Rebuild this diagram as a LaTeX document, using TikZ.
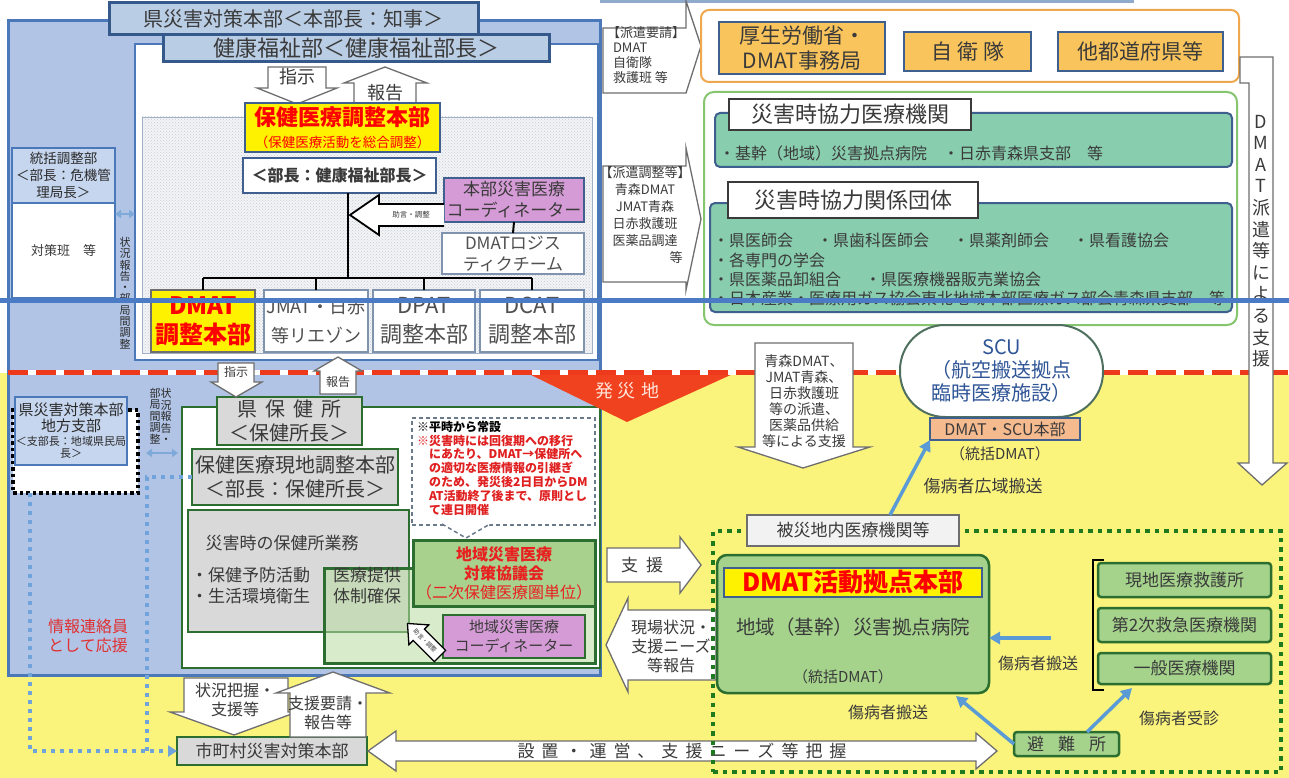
\documentclass[tikz,border=0pt]{standalone}
\usepackage{fontspec}
\setmainfont{Noto Sans CJK JP}
\usetikzlibrary{arrows.meta,patterns,calc}
\definecolor{outerfill}{HTML}{B1C4E6}
\definecolor{outerline}{HTML}{4A78B8}
\definecolor{titlefill}{HTML}{B9CDE5}
\definecolor{titleline}{HTML}{35598A}
\definecolor{yel}{HTML}{FBF47C}
\definecolor{txt}{HTML}{3A3A3A}
\definecolor{txtl}{HTML}{505050}
\definecolor{txtd}{HTML}{2A2A2A}
\definecolor{ybox}{HTML}{FFF200}
\definecolor{boxline}{HTML}{3F5F8F}
\definecolor{logiline}{HTML}{7F93AE}
\definecolor{pinkf}{HTML}{D59BD6}
\definecolor{lbf}{HTML}{C6D6EE}
\definecolor{orf}{HTML}{F9C45C}
\definecolor{orline}{HTML}{F0A84E}
\definecolor{grline}{HTML}{84C56E}
\definecolor{tealf}{HTML}{88CDAE}
\definecolor{gf}{HTML}{A5D38C}
\definecolor{kyf}{HTML}{A9D18E}
\definecolor{gdark}{HTML}{2B6E2F}
\definecolor{greyf}{HTML}{D9D9D9}
\definecolor{lgf}{HTML}{B9DCA0}
\definecolor{salm}{HTML}{F5BA8E}
\definecolor{bluearrc}{HTML}{5B9BD5}
\definecolor{dotblue}{HTML}{6FA3DA}
\definecolor{dblc}{HTML}{7FA9D8}
\definecolor{dotgreen}{HTML}{1F7A1F}
\definecolor{hred}{HTML}{F0421E}
\definecolor{dred}{HTML}{EE3A1C}
\definecolor{midline}{HTML}{4A7BC4}
\definecolor{scublue}{HTML}{2F5597}
\definecolor{sculine}{HTML}{4F6F5F}
\definecolor{notered}{HTML}{E02020}
\definecolor{kyred}{HTML}{E82020}
\definecolor{noteline}{HTML}{6A7A8A}
\definecolor{arrgrey}{HTML}{6E6E6E}
\definecolor{hatchbg}{HTML}{F3F4F6}
\definecolor{hatchdot}{HTML}{C5CAD3}
\definecolor{hatchline}{HTML}{9FB0C6}
\definecolor{hisaif}{HTML}{F2F2F2}
\definecolor{topstripc}{HTML}{8FAACB}
\definecolor{infored}{HTML}{E03030}
\definecolor{hassaitxt}{HTML}{FFE4DA}
\newcommand\fs[2]{\fontsize{#1}{#2}\selectfont}
\newcommand\kgap{\hspace{7pt}}
\newcommand\bx[7]{\node[#1, minimum width={(#5-#3)*1pt}, minimum height={(#6-#4)*1pt}] (#2) at ({(#3+#5)/2},{(#4+#6)/2}) {#7};}
\tikzset{
 nb/.style={inner sep=1pt, outer sep=0pt, align=center, text=txt},
 outerbox/.style={nb, fill=outerfill, draw=outerline, line width=3pt},
 titlebox/.style={nb, fill=titlefill, draw=titleline, line width=3pt},
 panelbox/.style={nb, fill=white, draw=outerline, line width=1.5pt},
 hatchbox/.style={nb, preaction={fill=hatchbg}, pattern=crosshatch dots, pattern color=hatchdot, draw=hatchline, line width=0.8pt},
 blockarrow/.style={fill=white, draw=arrgrey, line width=1.3pt, line join=miter},
 blockarrowk/.style={fill=white, draw=black, line width=1.8pt, line join=miter},
 yelbox/.style={nb, fill=ybox, draw=boxline, line width=2pt, text=red},
 whitebox/.style={nb, fill=white, draw=boxline, line width=2pt},
 pinkbox/.style={nb, fill=pinkf, draw=boxline, line width=2pt},
 logibox/.style={nb, fill=white, draw=logiline, line width=1.5pt, text=txtl},
 tree/.style={line width=2.5pt, black},
 dmatbox/.style={nb, fill=ybox, draw=arrgrey, line width=1.5pt, text=red},
 wbox/.style={nb, fill=white, draw=logiline, line width=1.5pt, text=txtl},
 lbbox/.style={nb, fill=lbf, draw=outerline, line width=2pt, text=txtd},
 dblarrow/.style={draw=dblc, line width=2.5pt, {Triangle[length=6pt,width=8pt]}-{Triangle[length=6pt,width=8pt]}},
 frameor/.style={nb, fill=white, draw=orline, line width=2pt, rounded corners=8pt},
 orbox/.style={nb, fill=orf, draw=boxline, line width=2pt},
 framegr/.style={nb, fill=white, draw=grline, line width=2pt, rounded corners=10pt},
 tealbox/.style={nb, fill=tealf, draw=boxline, line width=2pt, rounded corners=5pt},
 labelbox/.style={nb, fill=white, draw=txt, line width=1.5pt},
 gwbox/.style={nb, fill=white, draw=gdark, line width=2.5pt},
 greybox/.style={nb, fill=greyf, draw=gdark, line width=2.5pt},
 lgbox/.style={nb, fill=lgf, fill opacity=0.55, draw=gdark, draw opacity=1, line width=3pt},
 kyogibox/.style={nb, fill=kyf, draw=gdark, line width=3pt, text=kyred},
 pinkboxg/.style={nb, fill=pinkf, draw=gdark, line width=2.5pt},
 notebox/.style={nb, fill=white, draw=noteline, line width=1.5pt, dash pattern=on 4pt off 3pt},
 notedash/.style={draw=noteline, line width=1.5pt, dash pattern=on 4pt off 3pt},
 dottedbox/.style={nb, fill=white, draw=black, line width=3.5pt, dash pattern=on 3.5pt off 3pt},
 bluedots/.style={draw=dotblue, line width=4pt, dash pattern=on 4pt off 5pt},
 greendots/.style={nb, draw=dotgreen, line width=4.5pt, dash pattern=on 4.5pt off 5pt},
 hisaibox/.style={nb, fill=hisaif, draw=arrgrey, line width=1.5pt},
 gbox/.style={nb, fill=gf, draw=gdark, line width=2.5pt, rounded corners=3pt},
 banner/.style={nb, fill=ybox, draw=boxline, line width=1.5pt, text=red},
 bluearr/.style={draw=bluearrc, line width=3.5pt, -{Triangle[length=11pt,width=12pt]}},
 salmonbox/.style={nb, fill=salm, draw=boxline, line width=2pt},
 scubox/.style={nb, fill=white, draw=sculine, line width=2pt, rounded corners=45pt, text=scublue},
}
\begin{document}
\begin{tikzpicture}[x=1pt,y=-1pt]
\useasboundingbox (0,0) rectangle (1289,778);
\fill[white] (0,0) rectangle (1289,778);
\fill[yel] (0,373) rectangle (1289,778);
\draw[topstripc, line width=2.5pt] (600,1.5) -- (1134,1.5);

% ===== upper left: prefecture HQ =====
\bx{outerbox}{outer}{8}{21}{600}{675}{}
\bx{titlebox, font=\fs{20}{22}}{title}{109}{3}{478}{35}{県災害対策本部＜本部長：知事＞}
\bx{panelbox}{panel}{135}{44}{598}{360}{}
\bx{titlebox, font=\fs{22}{24}}{header}{163}{35}{549}{62}{健康福祉部＜健康福祉部長＞}
\bx{hatchbox}{hatch}{142}{117}{592}{353}{}

\draw[blockarrow] (268,67) -- (326,67) -- (326,88) -- (337,88) -- (297,104) -- (257,88) -- (268,88) -- cycle;
\node[nb, font=\fs{18}{20}] (shijiA) at (297,77) {指示};
\draw[blockarrow] (354,104) -- (354,83) -- (344,83) -- (385,67) -- (427,83) -- (416,83) -- (416,104) -- cycle;
\node[nb, font=\fs{18}{20}] (hokokuA) at (385,93) {報告};

\bx{yelbox, font=\fs{22}{22}\bfseries}{hq}{245}{103}{440}{152}{保健医療調整本部\\{\fs{13.5}{15}\mdseries （保健医療活動を総合調整）}}
\bx{whitebox, font=\fs{16}{18}\bfseries}{bucho}{243}{158}{436}{193}{＜部長：健康福祉部長＞}
\bx{pinkbox, font=\fs{17}{21}}{honbucoord}{444}{178}{584}{222}{本部災害医療\\コーディネーター}
\bx{logibox, font=\fs{17}{21}}{logi}{442}{233}{584}{274}{DMATロジス\\ティクチーム}
\draw[line width=2pt] (honbucoord.south) -- (logi.north);

\bx{dmatbox, font=\fs{24}{29}\bfseries}{dmatc}{151}{290}{255}{352}{DMAT\\調整本部}
\bx{wbox, font=\fs{18}{29}}{jmat}{264}{290}{368}{352}{JMAT・日赤\\等リエゾン}
\bx{wbox, font=\fs{22}{29}}{dpat}{373}{290}{475}{352}{DPAT\\調整本部}
\bx{wbox, font=\fs{22}{29}}{dcat}{480}{290}{584}{352}{DCAT\\調整本部}

\coordinate (trunk) at (348,278);
\draw[tree] (bucho.south -| trunk) -- (trunk);
\draw[tree] (dmatc.north |- trunk) -- (dcat.north |- trunk);
\foreach \n in {dmatc,jmat,dpat,dcat} \draw[tree] (\n.north |- trunk) -- (\n.north);

\draw[blockarrowk] (444,204) -- (379,204) -- (379,195) -- (350,215) -- (379,235) -- (379,226) -- (444,226);
\node[nb, font=\fs{7.5}{8}] (jogenA) at (411,215) {助言・調整};

\bx{lbbox, font=\fs{13.5}{17}}{tokatsu}{12}{148}{115}{203}{統括調整部\\＜部長：危機管\\理局長＞}
\bx{nb, fill=white, draw=outerline, line width=1.5pt, font=\fs{13}{15}}{taisaku}{12}{203}{115}{298}{対策班　等}
\draw[dblarrow] (taisaku.east |- 0,214) -- (panel.west |- 0,214);
\node[nb, font=\fs{11}{11.3}, text=txtd] (vtA) at (125,293) {状\\況\\報\\告\\・\\部\\局\\間\\調\\整};

% ===== upper right =====
\draw[blockarrow] (603,28) -- (686,28) -- (686,1) -- (701,46) -- (686,93) -- (603,93) -- cycle;
\node[nb, anchor=north west, align=left, font=\fs{13}{15}] (reqA) at (606,26) {【派遣要請】\\\hspace*{6pt}DMAT\\\hspace*{6pt}自衛隊\\\hspace*{6pt}救護班 等};
\draw[blockarrow] (603,166) -- (686,166) -- (686,148) -- (701,219) -- (686,290) -- (686,282) -- (603,282) -- cycle;
\node[nb, font=\fs{13}{17}] (reqB) at (645,207) {【派遣調整等】\\青森DMAT\\JMAT青森\\日赤救護班\\医薬品調達};
\node[nb, font=\fs{13}{15}] (reqBend) at (676,258) {等};

\bx{frameor}{orframe}{701}{10}{1239}{82}{}
\bx{orbox, font=\fs{21}{25}}{mhlw}{719}{22}{885}{74}{厚生労働省・\\DMAT事務局}
\bx{orbox, font=\fs{21}{24}}{sdf}{904}{32}{1031}{71}{自\hspace{5pt}衛\hspace{5pt}隊}
\bx{orbox, font=\fs{21}{24}}{otherpref}{1058}{32}{1223}{71}{他都道府県等}

\bx{framegr}{grframe}{704}{92}{1237}{325}{}
\bx{tealbox}{tealA}{715}{113}{1232}{167}{}
\bx{labelbox, font=\fs{22}{24}}{labA}{729}{99}{971}{130}{災害時協力医療機関}
\node[nb, anchor=west, font=\fs{16}{19}] (tA) at (718,153) {・基幹（地域）災害拠点病院　・日赤青森県支部　等};
\bx{tealbox}{tealB}{710}{203}{1232}{312}{}
\bx{labelbox, font=\fs{22}{24}}{labB}{728}{182}{978}{218}{災害時協力関係団体}
\node[nb, anchor=west, font=\fs{16}{19}] (tBa) at (712,240) {・県医師会\hspace{1.5em}・県歯科医師会\hspace{1.5em}・県薬剤師会\hspace{1.5em}・県看護協会};
\node[nb, anchor=west, font=\fs{16}{19}] (tBb) at (712,260) {・各専門の学会};
\node[nb, anchor=west, font=\fs{16}{19}] (tBc) at (712,279) {・県医薬品卸組合\hspace{1.5em}・県医療機器販売業協会};
\node[nb, anchor=west, font=\fs{16}{19}] (tBd) at (712,298) {・日本産業・医療用ガス協会東北地域本部医療ガス部会青森県支部　等};

% ===== lower left =====
\bx{gwbox}{hokenframe}{182}{407}{600}{668}{}
\bx{greybox}{gyomu}{188}{510}{409}{632}{}
\node[nb, font=\fs{17}{19}] (gyomuT) at (282,543) {災害時の保健所業務};
\node[nb, anchor=west, align=left, font=\fs{17}{21}] (gyomuL) at (190,586) {・保健予防活動\\・生活環境衛生};
\bx{lgbox}{iryoteikyo}{324}{568}{595}{663}{}
\node[nb, font=\fs{17}{21}] (iryoT) at (367,586) {医療提供\\体制確保};
\bx{kyogibox, font=\fs{16}{19}}{kyogi}{413}{540}{595}{606}{{\bfseries 地域災害医療}\\{\bfseries 対策協議会}\\（二次保健医療圏単位）}
\bx{pinkboxg, font=\fs{15}{19}}{chiikicoord}{443}{615}{585}{658}{地域災害医療\\コーディネーター}
\begin{scope}[shift={(440,656)}, rotate=135]
\draw[blockarrowk, line width=1.3pt] (0,-8) -- (30,-8) -- (30,-14) -- (46,0) -- (30,14) -- (30,8) -- (0,8) -- cycle;
\end{scope}
\node[nb, inner sep=0pt, font=\fs{6}{6.5}, rotate=-45] (jogenB) at (425,641) {助言・調整};

\bx{greybox, font=\fs{20}{24}}{kenhoken}{217}{397}{362}{445}{県\hspace{8pt}保\hspace{8pt}健\hspace{8pt}所\\＜保健所長＞}
\bx{greybox, font=\fs{20}{24}}{genchi}{192}{449}{398}{505}{保健医療現地調整本部\\＜部長：保健所長＞}

\bx{notebox}{note}{412}{418}{595}{525}{}
\draw[notedash, fill=white] (442,524) -- (466,538) -- (490,524);
\node[nb, anchor=north west, align=left, font=\fs{12}{13.8}\bfseries, text=notered] (noteT) at (416,420) {\textcolor{black}{※平時から常設}\\※災害時には回復期への移行\\\hspace*{1em}にあたり、DMAT→保健所へ\\\hspace*{1em}の適切な医療情報の引継ぎ\\\hspace*{1em}のため、発災後2日目からDM\\\hspace*{1em}AT活動終了後まで、原則とし\\\hspace*{1em}て連日開催};

\bx{dottedbox}{chihoframe}{13}{410}{138}{493}{}
\bx{lbbox}{chiho}{15}{397}{127}{465}{}
\node[nb, font=\fs{15}{16}, text=txtd] (chihoA) at (71,418) {県災害対策本部\\地方支部};
\node[nb, font=\fs{11}{12}, text=txtd] (chihoB) at (71,447) {＜支部長：地域県民局\\長＞};
\node[nb, font=\fs{11}{11.5}, text=txtd] (vtB) at (155,416) {部\\局\\間\\調\\整};
\node[nb, font=\fs{11}{11.5}, text=txtd] (vtC) at (166,416) {状\\況\\報\\告\\・};
\draw[dblarrow, shorten <=8pt, shorten >=4pt] (chihoframe.east |- 0,453) -- (hokenframe.west |- 0,453);

\node[nb, font=\fs{16}{19}, text=infored] (joho) at (88,636) {情報連絡員\\として応援};

\bx{greybox, font=\fs{17}{19}}{shicho}{177}{737}{367}{765}{市町村災害対策本部}
\draw[bluedots, -{Triangle[length=9pt,width=11pt]}] (chihoframe.south -| 30,0) |- (shicho.west);
\draw[bluedots] (genchi.west) -| (147,751);

\draw[blockarrow] (184,678) -- (288,678) -- (288,712) -- (297,712) -- (234,735) -- (170,712) -- (184,712) -- cycle;
\node[nb, font=\fs{16}{19}] (haaku) at (235,700) {状況把握・\\支援等};
\draw[blockarrow] (290,737) -- (290,693) -- (276,693) -- (333,672) -- (390,693) -- (366,693) -- (366,737) -- cycle;
\node[nb, font=\fs{16}{19}] (yosei) at (328,713) {支援要請・\\報告等};

% ===== disaster area boundary =====
\fill[hred] (527,373) -- (735,373) -- (627,422) -- cycle;
\node[nb, font=\fs{18}{20}, text=hassaitxt] (hassai) at (627,391) {発\hspace{5pt}災\hspace{5pt}地};
\draw[white, line width=5pt] (8,372) -- (1289,372);
\draw[dred, line width=5pt, dash pattern=on 20pt off 8pt] (8,372) -- (1289,372);

\draw[blockarrow] (218,363) -- (254,363) -- (254,382) -- (262,382) -- (236,397) -- (211,382) -- (218,382) -- cycle;
\node[nb, font=\fs{12}{13}] (shijiB) at (236,372) {指示};
\draw[blockarrow] (320,394) -- (320,371) -- (314,371) -- (338,357) -- (362,371) -- (356,371) -- (356,394) -- cycle;
\node[nb, font=\fs{12}{13}] (hokokuB) at (338,382) {報告};

% ===== lower middle =====
\draw[blockarrow] (755,343) -- (853,343) -- (853,447) -- (870,447) -- (803,468) -- (738,447) -- (755,447) -- cycle;
\node[nb, font=\fs{14}{16}] (aomori) at (804,401) {青森DMAT、\\JMAT青森、\\日赤救護班\\等の派遣、\\医薬品供給\\等による支援};

\draw[blockarrow] (607,548) -- (680,548) -- (680,537) -- (701,565) -- (680,593) -- (680,582) -- (607,582) -- cycle;
\node[nb, font=\fs{17}{19}] (shien) at (642,565) {支\hspace{8pt}援};
\draw[blockarrow] (716,610) -- (628,610) -- (628,598) -- (606,645) -- (628,692) -- (628,680) -- (716,680) -- cycle;
\node[nb, font=\fs{16}{19}] (genba) at (671,646) {現場状況・\\支援ニーズ\\等報告};

\draw[blockarrow] (368,751) -- (396,731) -- (396,741) -- (976,741) -- (976,733) -- (997,751) -- (976,769) -- (976,761) -- (396,761) -- (396,771) -- cycle;
\node[nb, font=\fs{17}{19}] (setchi) at (682,751) {設\kgap 置\kgap ・\kgap 運\kgap 営\kgap 、\kgap 支\kgap 援\kgap ニ\kgap ー\kgap ズ\kgap 等\kgap 把\kgap 握};

% ===== SCU =====
\bx{scubox, font=\fs{20}{23}}{scu}{900}{325}{1103}{417}{SCU\\（航空搬送拠点\\臨時医療施設）}
\bx{salmonbox, font=\fs{16}{18}}{scuhq}{930}{418}{1080}{440}{DMAT・SCU本部}
\node[nb, font=\fs{15}{17}] (scutok) at (1000,454) {（統括DMAT）};
\node[nb, font=\fs{17}{19}] (kouiki) at (983,486) {傷病者広域搬送};

% ===== DMAT dispatch arrow =====
\draw[blockarrow] (1240,57) -- (1273,57) -- (1273,463) -- (1287,463) -- (1262,485) -- (1238,463) -- (1249,463) -- (1249,83) -- (1240,83) -- cycle;
\node[nb, font=\fs{18}{21.6}] (dmatv) at (1261,241) {D\\M\\A\\T\\派\\遣\\等\\に\\よ\\る\\支\\援};

% ===== lower right =====
\bx{greendots}{hisaiframe}{713}{531}{1281}{772}{}
\bx{hisaibox, font=\fs{17}{19}}{hisai}{747}{515}{959}{546}{被災地内医療機関等}
\draw[bluearr] (hisai.north -| 890,0) -- (scuhq.south west);

\bx{gbox, rounded corners=10pt}{dmathq}{717}{555}{989}{693}{}
\bx{banner, font=\fs{25}{27}\bfseries}{dmatbanner}{724}{568}{982}{597}{DMAT活動拠点本部}
\node[nb, font=\fs{19.5}{22}] (kikan) at (853,627) {地域（基幹）災害拠点病院};
\node[nb, font=\fs{15}{17}] (dmathqtok) at (843,677) {（統括DMAT）};

\draw[line width=2pt] (1104,560) -- (1093,560) -- (1093,690) -- (1104,690);
\bx{gbox, font=\fs{17}{19}}{genchiq}{1098}{563}{1271}{597}{現地医療救護所}
\bx{gbox, font=\fs{17}{19}}{dainiji}{1098}{608}{1271}{642}{第2次救急医療機関}
\bx{gbox, font=\fs{17}{19}}{ippan}{1098}{653}{1271}{684}{一般医療機関}
\bx{gbox, font=\fs{17}{19}}{hinan}{1014}{732}{1119}{756}{避\hspace{14pt}難\hspace{14pt}所}

\coordinate (baA) at (1051,638);
\coordinate (baB) at (956,696);
\coordinate (baC) at (1132,688);
\draw[bluearr] (baA) -- (dmathq.east |- baA);
\draw[bluearr] (hinan.west) -- (baB);
\draw[bluearr] (hinan.north -| 1087,0) -- (baC);
\node[nb, font=\fs{16}{18}] (hansoA) at (1038,663) {傷病者搬送};
\node[nb, font=\fs{16}{18}] (hansoB) at (888,712) {傷病者搬送};
\node[nb, font=\fs{16}{18}] (jushin) at (1179,718) {傷病者受診};

% ===== horizontal blue line =====
\draw[midline, line width=5pt] (0,300) -- (1289,300);
\end{tikzpicture}
\end{document}
